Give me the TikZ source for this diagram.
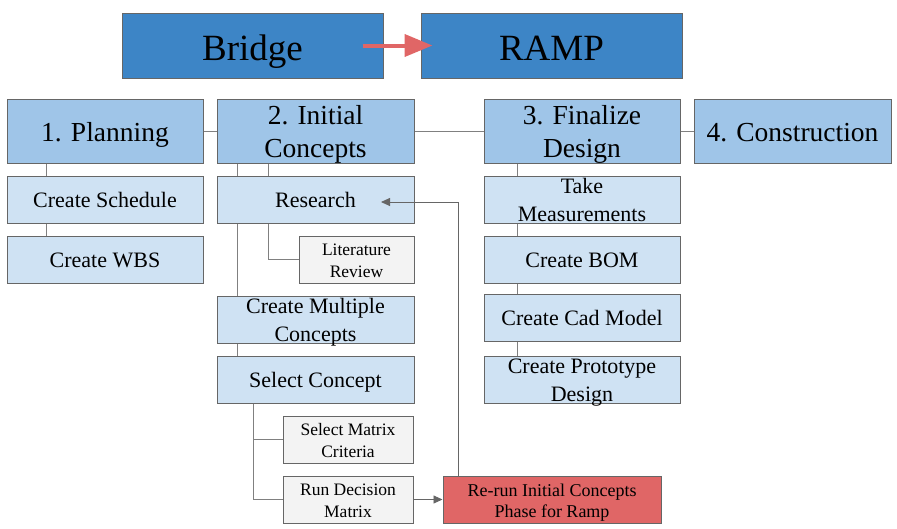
\documentclass[tikz,border=0pt]{standalone}
\usepackage{fontspec}
\setmainfont{Liberation Serif}
\usetikzlibrary{arrows.meta,positioning}
\definecolor{dblue}{HTML}{3D85C6}
\definecolor{mblue}{HTML}{9FC5E8}
\definecolor{lblue}{HTML}{CFE2F3}
\definecolor{lgray}{HTML}{F3F3F3}
\definecolor{lred}{HTML}{E06666}
\definecolor{bord}{HTML}{666666}
\definecolor{conn}{HTML}{808080}
\tikzset{
  base/.style={draw=bord, line width=1pt, rectangle, inner sep=0pt},
  lbl/.style={align=center, text=black, inner sep=0pt},
  topbox/.style={base, fill=dblue, minimum width=261pt, minimum height=65pt,
    label={[lbl, font=\fontsize{37}{40}\selectfont, yshift=-6.5pt]center:\strut #1\strut}},
  phase/.style={base, fill=mblue, minimum width=196pt, minimum height=64pt,
    label={[lbl, font=\fontsize{27.5}{33}\selectfont, yshift=-3.8pt]center:\strut #1\strut}},
  task/.style={base, fill=lblue, minimum width=196pt, minimum height=47pt,
    label={[lbl, font=\fontsize{22}{28}\selectfont, yshift=-2.5pt]center:\strut #1\strut}},
  sub/.style={base, fill=lgray, minimum height=47pt,
    label={[lbl, font=\fontsize{17.5}{22}\selectfont, yshift=-3pt]center:\strut #1\strut}},
  redbox/.style={base, fill=lred, minimum width=218pt, minimum height=47pt,
    label={[lbl, font=\fontsize{18}{21}\selectfont, yshift=-3.5pt]center:\strut #1\strut}},
  link/.style={draw=conn, line width=0.9pt},
  garrow/.style={draw=bord, line width=0.9pt, -{Triangle[length=9pt,width=8pt]}},
}
\begin{document}
\begin{tikzpicture}[x=1pt,y=-1pt]
\useasboundingbox (0,0) rectangle (897,528);
% top
\node[topbox={Bridge}] (bridge) at (252.5,45.5) {};
\node[topbox={RAMP}] (ramp) at (551.5,45.5) {};
% phases
\node[phase={1. Planning}] (plan) at (105,131) {};
\node[phase={2. Initial\\Concepts}, minimum width=197pt] (init) at (315.5,131) {};
\node[phase={3. Finalize\\Design}] (fin) at (582,131) {};
\node[phase={4. Construction}, minimum width=197pt] (cons) at (792.5,131) {};
% column 1
\node[task={Create Schedule}] (sched) at (105,199.5) {};
\node[task={Create WBS}] (wbs) at (105,259.5) {};
% column 2
\node[task={Research}, minimum width=197pt] (res) at (315.5,199.5) {};
\node[sub={Literature\\Review}, minimum width=115pt] (lit) at (356.5,259.5) {};
\node[task={Create Multiple\\Concepts}, minimum width=197pt] (cmc) at (315.5,319.5) {};
\node[task={Select Concept}, minimum width=197pt] (sel) at (315.5,379.5) {};
\node[sub={Select Matrix\\Criteria}, minimum width=130pt] (smc) at (348,439.5) {};
\node[sub={Run Decision\\Matrix}, minimum width=130pt] (rdm) at (348,499.5) {};
\node[redbox={Re-run Initial Concepts\\Phase for Ramp}] (rerun) at (552,499.5) {};
% column 3
\node[task={Take\\Measurements}] (take) at (582,199.5) {};
\node[task={Create BOM}] (bom) at (582,259.5) {};
\node[task={Create Cad Model}] (cad) at (582,317.5) {};
\node[task={Create Prototype\\Design}] (proto) at (582,379.5) {};
% connectors
\draw[link] (plan.east) -- (init.west);
\draw[link] (init.east) -- (fin.west);
\draw[link] (fin.east) -- (cons.west);
\draw[link] ([xshift=-59pt]plan.south) -- ([xshift=-59pt]sched.north);
\draw[link] ([xshift=-59pt]sched.south) -- ([xshift=-59pt]wbs.north);
\draw[link] ([xshift=-78.5pt]init.south) -- ([xshift=-78.5pt]res.north);
\draw[link] ([xshift=-47.5pt]init.south) -- ([xshift=-47.5pt]res.north);
\draw[link] ([xshift=-78.5pt]res.south) -- ([xshift=-78.5pt]cmc.north);
\draw[link] ([xshift=-47.5pt]res.south) |- (lit.west);
\draw[link] ([xshift=-78.5pt]cmc.south) -- ([xshift=-78.5pt]sel.north);
\draw[link] ([xshift=-62.5pt]sel.south) |- (smc.west);
\draw[link] ([xshift=-62.5pt]sel.south) |- (rdm.west);
\draw[link] ([xshift=-65pt]fin.south) -- ([xshift=-65pt]take.north);
\draw[link] ([xshift=-65pt]take.south) -- ([xshift=-65pt]bom.north);
\draw[link] ([xshift=-65pt]bom.south) -- ([xshift=-65pt]cad.north);
\draw[link] ([xshift=-65pt]cad.south) -- ([xshift=-65pt]proto.north);
\draw[garrow] (rdm.east) -- (rerun.west);
\coordinate (rt) at (381,202);
\draw[garrow] ([xshift=-94pt]rerun.north) |- (rt);
\draw[draw=lred, line width=4pt, -{Triangle[length=28pt,width=22pt]}] ([xshift=-21pt]bridge.east) -- ([xshift=12pt]ramp.west);
\end{tikzpicture}
\end{document}
